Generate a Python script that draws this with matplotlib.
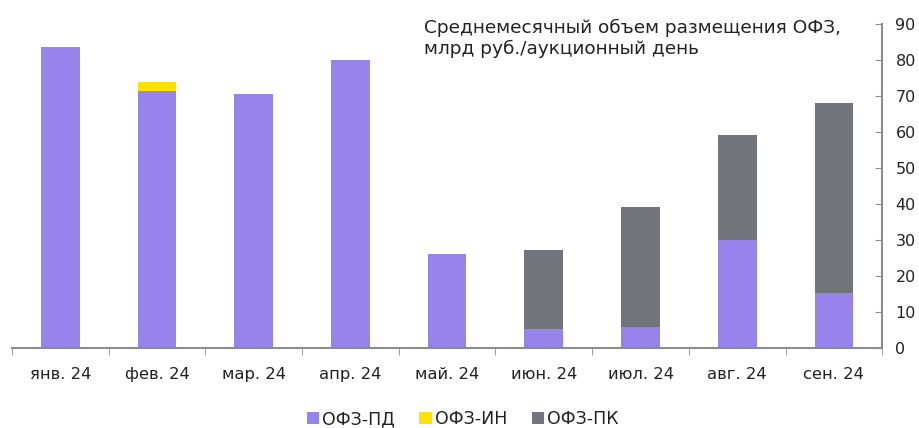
import numpy as np
import matplotlib
matplotlib.use("Agg")
import matplotlib.pyplot as plt
from matplotlib.ticker import FixedLocator

months = ["янв. 24", "фев. 24", "мар. 24", "апр. 24", "май. 24",
          "июн. 24", "июл. 24", "авг. 24", "сен. 24"]
ofz_pd = [83.5, 71.3, 70.6, 80.0, 26.1, 5.3, 5.8, 30.0, 15.3]
ofz_in = [0, 2.6, 0, 0, 0, 0, 0, 0, 0]
ofz_pk = [0, 0, 0, 0, 0, 21.9, 33.4, 29.2, 52.7]

plt.rcParams['font.family'] = ['DejaVu Sans']

c_pd = '#9683EC'
c_in = '#FFE100'
c_pk = '#71747B'
axis_col = '#8C8C8C'
txt_col = '#222222'

fig = plt.figure(figsize=(9.2, 4.28), dpi=100)
ax = fig.add_axes([0.013, 0.187, 0.946, 0.757])

x = np.arange(len(months))
w = 0.4
pd_arr = np.array(ofz_pd)
in_arr = np.array(ofz_in)
pk_arr = np.array(ofz_pk)
ax.bar(x, pd_arr, w, color=c_pd, label='ОФЗ-ПД')
ax.bar(x, in_arr, w, bottom=pd_arr, color=c_in, label='ОФЗ-ИН')
ax.bar(x, pk_arr, w, bottom=pd_arr + in_arr, color=c_pk, label='ОФЗ-ПК')

ax.set_xlim(-0.5, len(months) - 0.5)
ax.set_ylim(0, 90)
ax.set_yticks(range(0, 91, 10))
ax.yaxis.tick_right()
ax.tick_params(axis='y', direction='in', length=5, color=axis_col,
               labelsize=11.5, pad=9.5, labelcolor=txt_col)
ax.set_xticks(x)
ax.set_xticklabels(months)
ax.tick_params(axis='x', length=0, labelsize=11.8, pad=13.5, labelcolor=txt_col)
ax.xaxis.set_minor_locator(FixedLocator(np.arange(-0.5, len(months), 1)))
ax.tick_params(axis='x', which='minor', direction='out', length=5, color=axis_col)

for s in ['top', 'left']:
    ax.spines[s].set_visible(False)
ax.spines['right'].set_color(axis_col)
ax.spines['bottom'].set_color(axis_col)
ax.spines['right'].set_linewidth(1.5)
ax.spines['bottom'].set_linewidth(1.5)

ax.text(0.474, 1.016, 'Среднемесячный объем размещения ОФЗ,\nмлрд руб./аукционный день',
        transform=ax.transAxes, ha='left', va='top', fontsize=13.3,
        color=txt_col, linespacing=1.2)

fig.legend(loc='lower center', ncol=3, frameon=False, fontsize=12.5,
           bbox_to_anchor=(0.503, -0.037), handlelength=0.7, handleheight=0.7,
           handletextpad=0.2, columnspacing=1.4, labelcolor=txt_col)

fig.savefig('out.png', dpi=100)
